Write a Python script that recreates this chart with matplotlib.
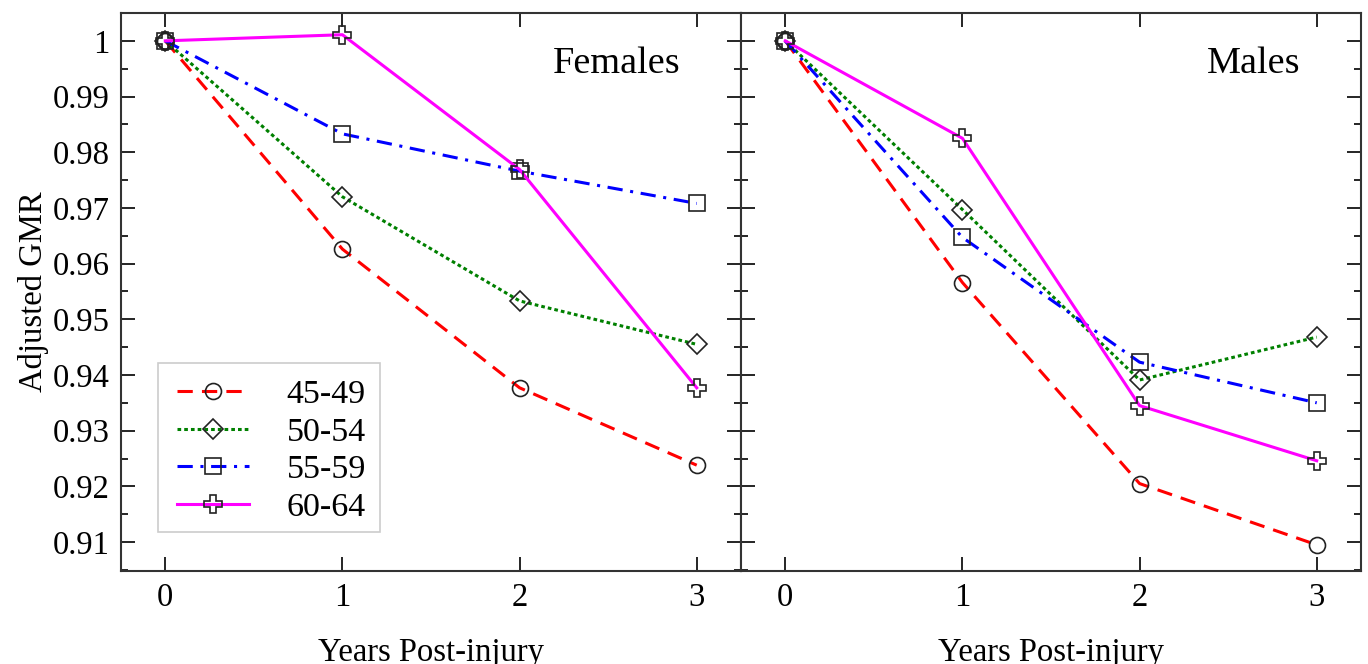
import numpy as np
import matplotlib
matplotlib.use('Agg')
import matplotlib.pyplot as plt
from matplotlib.patches import Rectangle
from matplotlib.ticker import MultipleLocator, FixedLocator

years = [0, 1, 2, 3]
groups = ['45-49', '50-54', '55-59', '60-64']

# adjusted GMR per age group
females = {
    '45-49': [1.0, 0.9626, 0.9377, 0.9238],
    '50-54': [1.0, 0.9720, 0.9533, 0.9455],
    '55-59': [1.0, 0.9833, 0.9766, 0.9708],
    '60-64': [1.0, 1.0011, 0.9769, 0.9377],
}
males = {
    '45-49': [1.0, 0.9566, 0.9205, 0.9095],
    '50-54': [1.0, 0.9697, 0.9391, 0.9468],
    '55-59': [1.0, 0.9647, 0.9423, 0.9350],
    '60-64': [1.0, 0.9825, 0.9345, 0.9246],
}

colors = ['#ff0000', '#008000', '#0000ff', '#ff00ff']
styles = [(0, (5, 3)), (0, (1.2, 1.0)), (0, (5, 2.5, 1, 2.5)), '-']
markers = ['o', 'D', 's', 'P']
msizes = [11.5, 10.5, 11.5, 12.5]

plt.rcParams['font.family'] = ['Liberation Serif', 'DejaVu Serif']

W, H = 1368, 664
fig = plt.figure(figsize=(W / 100, H / 100), dpi=100)
ax1 = fig.add_axes([121 / W, (H - 571) / H, 620 / W, 558 / H])
ax2 = fig.add_axes([741 / W, (H - 571) / H, 620 / W, 558 / H], sharey=ax1)


def draw_panel(ax, data, title):
    for i, g in enumerate(groups):
        ax.plot(years, data[g], color=colors[i], linestyle=styles[i], lw=2.2,
                marker=markers[i], ms=msizes[i],
                mfc='none', mec='#222222', mew=1.2, label=g)
    ax.set_xlim(-0.25, 3.25)
    ax.set_ylim(0.9048, 1.0050)
    ax.xaxis.set_major_locator(FixedLocator(years))
    ax.yaxis.set_major_locator(MultipleLocator(0.01))
    ax.yaxis.set_minor_locator(MultipleLocator(0.005))
    ax.tick_params(axis='both', which='major', direction='in', length=10,
                   width=1.2, top=True, right=True, labelsize=23.5, pad=8)
    ax.tick_params(axis='y', which='minor', direction='in', length=5,
                   width=1.2, left=True, right=True)
    for s in ax.spines.values():
        s.set_color('#333333')
        s.set_linewidth(1.5)
    # the x label sits partly below the figure edge, as in the original
    ax.set_xlabel('Years Post-injury', fontsize=23.5, labelpad=18)
    ax.text(0.902, 0.94, title, transform=ax.transAxes, fontsize=27.5,
            ha='right', va='top')


draw_panel(ax1, females, 'Females')
draw_panel(ax2, males, 'Males')

ax1.set_yticks([0.91, 0.92, 0.93, 0.94, 0.95, 0.96, 0.97, 0.98, 0.99, 1.0])
ax1.set_yticklabels(['0.91', '0.92', '0.93', '0.94', '0.95', '0.96',
                     '0.97', '0.98', '0.99', '1'])
ax1.set_ylabel('Adjusted GMR', fontsize=23.5, labelpad=3)
plt.setp(ax2.get_yticklabels(), visible=False)

# legend without its own frame; the box is drawn separately
leg = ax1.legend(loc='lower left', bbox_to_anchor=(0.063, 0.0557),
                 fontsize=24.5, frameon=False,
                 handlelength=2.1, handletextpad=1.12, labelspacing=0.2,
                 borderpad=0.5, borderaxespad=0)
ax1.add_patch(Rectangle((0.06, 0.07), 0.358, 0.303, transform=ax1.transAxes,
                        fill=False, edgecolor='#cccccc', lw=1.2, zorder=4))

fig.savefig('out.png', dpi=100)
